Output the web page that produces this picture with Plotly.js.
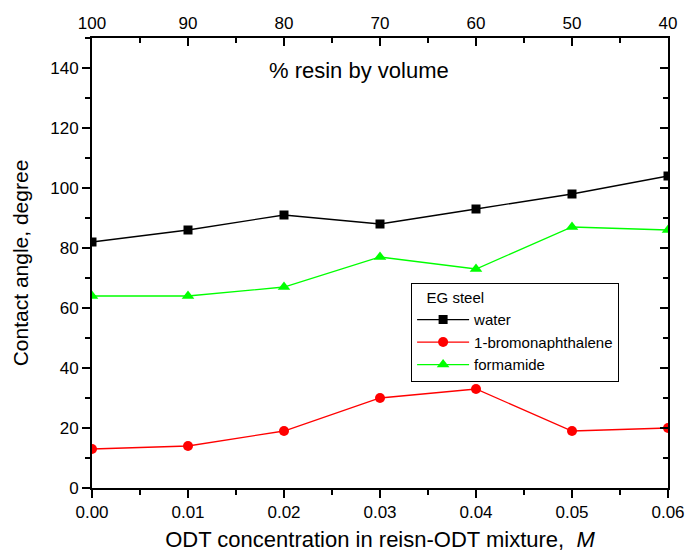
<!DOCTYPE html>
<html><head><meta charset="utf-8">
<script src="https://cdn.plot.ly/plotly-3.0.1.min.js"></script>
<style>body{margin:0;padding:0;background:#fff}#c{width:688px;height:557px}</style>
</head><body><div id="c"></div>
<script>
const odt = [0.00, 0.01, 0.02, 0.03, 0.04, 0.05, 0.06];
const resinLabels = ["100", "90", "80", "70", "60", "50", "40"];
const water = [82, 86, 91, 88, 93, 98, 104];
const bromo = [13, 14, 19, 30, 33, 19, 20];
const formamide = [64, 64, 67, 77, 73, 87, 86];

const F = "Liberation Sans, Arial, sans-serif";
const traces = [
  {x: odt, y: water, name: "water", mode: "lines+markers", line: {color: "#000000", width: 1.3}, marker: {symbol: "square", size: 9, color: "#000000"}, cliponaxis: true},
  {x: odt, y: bromo, name: "1-bromonaphthalene", mode: "lines+markers", line: {color: "#ff0000", width: 1.3}, marker: {symbol: "circle", size: 10, color: "#ff0000"}, cliponaxis: true},
  {x: odt, y: formamide, name: "formamide", mode: "lines+markers", line: {color: "#00ff00", width: 1.3}, marker: {symbol: "triangle-up", size: 11, color: "#00ff00"}, cliponaxis: true},
  {x: odt, y: water, xaxis: "x2", yaxis: "y2", mode: "none", showlegend: false, hoverinfo: "skip"}
];
const layout = {
  width: 688, height: 557,
  margin: {l: 92, r: 20, t: 38, b: 69},
  paper_bgcolor: "#fff", plot_bgcolor: "#fff",
  font: {family: F, color: "#000", size: 17},
  showlegend: true,
  legend: {x: 0.554, y: 0.456, xanchor: "left", yanchor: "top", bordercolor: "#000", borderwidth: 1, bgcolor: "#fff",
    font: {size: 15, family: F}, title: {text: "&nbsp;&nbsp;&nbsp;EG steel", font: {size: 15, family: F}}, tracegroupgap: 0, itemwidth: 52},
  xaxis: {range: [0, 0.06], tickvals: odt, ticktext: odt.map(v => v.toFixed(2)), ticks: "outside", ticklen: 8, tickwidth: 2, tickcolor: "#000",
    showline: true, linecolor: "#000", linewidth: 2, showgrid: false, zeroline: false,
    minor: {dtick: 0.005, ticks: "outside", ticklen: 5, tickwidth: 2, tickcolor: "#000", showgrid: false},
    title: {text: "ODT concentration in reisn-ODT mixture,  <i>M</i>", font: {size: 22, family: F}, standoff: 10}, tickfont: {size: 17}},
  yaxis: {range: [0, 150], tickvals: [0, 20, 40, 60, 80, 100, 120, 140], ticks: "outside", ticklen: 8, tickwidth: 2, tickcolor: "#000",
    showline: true, linecolor: "#000", linewidth: 2, showgrid: false, zeroline: false,
    minor: {dtick: 10, ticks: "outside", ticklen: 5, tickwidth: 2, tickcolor: "#000", showgrid: false},
    title: {text: "Contact angle, degree", font: {size: 21, family: F}, standoff: 16}, tickfont: {size: 17}},
  xaxis2: {overlaying: "x", side: "top", anchor: "y", range: [0, 0.06], tickvals: odt, ticktext: resinLabels, ticks: "inside", ticklen: 8, tickwidth: 2, tickcolor: "#000",
    showline: true, linecolor: "#000", linewidth: 2, showgrid: false, zeroline: false,
    minor: {dtick: 0.005, ticks: "inside", ticklen: 5, tickwidth: 2, tickcolor: "#000", showgrid: false}, tickfont: {size: 17}},
  yaxis2: {overlaying: "y", side: "right", anchor: "x", range: [0, 150], tickvals: [0, 20, 40, 60, 80, 100, 120, 140], showticklabels: false, ticks: "inside", ticklen: 8, tickwidth: 2, tickcolor: "#000",
    showline: true, linecolor: "#000", linewidth: 2, showgrid: false, zeroline: false,
    minor: {dtick: 10, ticks: "inside", ticklen: 5, tickwidth: 2, tickcolor: "#000", showgrid: false}},
  annotations: [{text: "% resin by volume", xref: "paper", yref: "paper", x: 0.463, y: 0.927, showarrow: false, font: {size: 22, family: F}, xanchor: "center", yanchor: "middle"}]
};
Plotly.newPlot("c", traces, layout, {displayModeBar: false, staticPlot: true});
</script></body></html>
